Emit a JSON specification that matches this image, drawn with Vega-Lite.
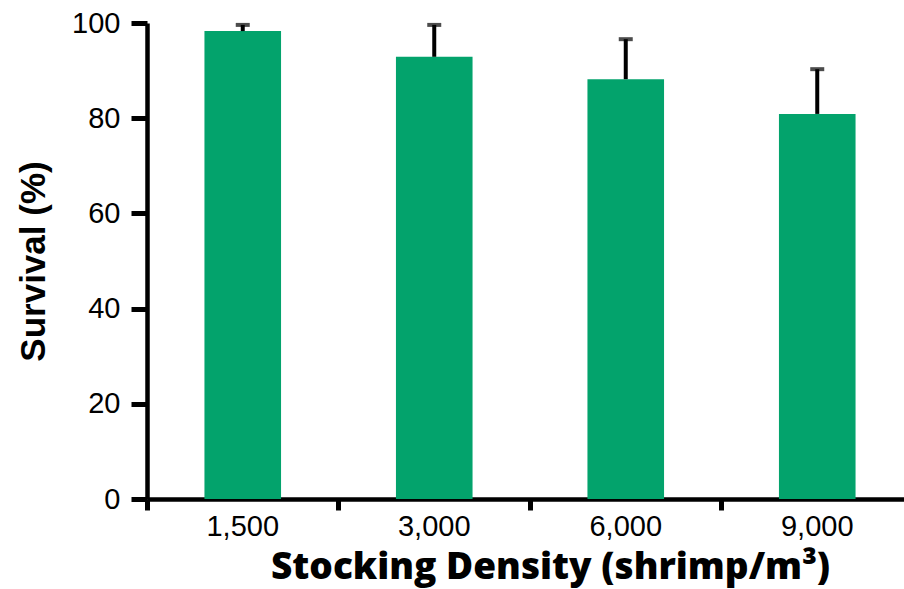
{
  "$schema": "https://vega.github.io/schema/vega-lite/v6.json",
  "autosize": {"type": "none"},
  "padding": {"left": 147, "top": 23, "right": 0, "bottom": 90},
  "width": 757,
  "height": 476,
  "background": "white",
  "config": {"view": {"stroke": null}},
  "data": {
    "values": [
      {"density": "1,500", "survival": 98.3, "upper": 99.6},
      {"density": "3,000", "survival": 92.9, "upper": 99.6},
      {"density": "6,000", "survival": 88.2, "upper": 96.6},
      {"density": "9,000", "survival": 80.9, "upper": 90.3}
    ]
  },
  "encoding": {
    "x": {
      "field": "density",
      "type": "nominal",
      "sort": null,
      "scale": {"paddingInner": 0, "paddingOuter": 0, "range": [0, 766]},
      "axis": {
        "title": "Stocking Density (shrimp/m³)",
        "titleFont": "Open Sans",
        "titleFontWeight": 800,
        "titleFontSize": 37,
        "titleColor": "black",
        "titleX": 403,
        "titleY": 79,
        "titleAlign": "center",
        "titleBaseline": "alphabetic",
        "labelAngle": 0,
        "labelFont": "Liberation Sans",
        "labelFontSize": 29,
        "labelColor": "black",
        "labelPadding": 2,
        "bandPosition": 0,
        "domainColor": "black",
        "domainWidth": 4.5,
        "tickColor": "black",
        "tickWidth": 5,
        "tickSize": 11
      }
    }
  },
  "layer": [
    {
      "mark": {"type": "bar", "color": "#03a36c", "width": {"band": 0.4}},
      "encoding": {
        "y": {
          "field": "survival",
          "type": "quantitative",
          "scale": {"domain": [0, 100], "nice": false},
          "axis": {
            "title": "Survival (%)",
            "titleFont": "Liberation Sans",
            "titleFontWeight": "bold",
            "titleFontSize": 35,
            "titleColor": "black",
            "titlePadding": 20,
            "values": [0, 20, 40, 60, 80, 100],
            "grid": false,
            "labelFont": "Liberation Sans",
            "labelFontSize": 29,
            "labelColor": "black",
            "labelPadding": 11,
            "domainColor": "black",
            "domainWidth": 4.5,
            "tickColor": "black",
            "tickWidth": 5,
            "tickSize": 16
          }
        }
      }
    },
    {
      "mark": {"type": "rule", "color": "black", "strokeWidth": 4},
      "encoding": {
        "y": {"field": "survival", "type": "quantitative"},
        "y2": {"field": "upper"}
      }
    },
    {
      "mark": {"type": "tick", "color": "black", "thickness": 4, "size": 14, "orient": "horizontal"},
      "encoding": {
        "y": {"field": "upper", "type": "quantitative"}
      }
    }
  ]
}
